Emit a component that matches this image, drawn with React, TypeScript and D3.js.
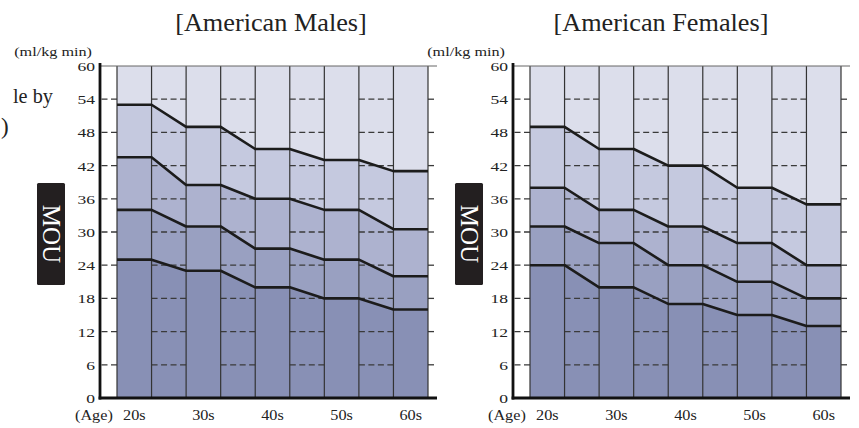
import React from "react";
import * as d3 from "d3";

const AGES = ["20s", "30s", "40s", "50s", "60s"];
const Y_TICKS = [0, 6, 12, 18, 24, 30, 36, 42, 48, 54, 60];

const MALE_L1 = [25, 23, 20, 18, 16];
const MALE_L2 = [34, 31, 27, 25, 22];
const MALE_L3 = [43.5, 38.5, 36, 34, 30.5];
const MALE_L4 = [53, 49, 45, 43, 41];

const FEMALE_L1 = [24, 20, 17, 15, 13];
const FEMALE_L2 = [31, 28, 24, 21, 18];
const FEMALE_L3 = [38, 34, 31, 28, 24];
const FEMALE_L4 = [49, 45, 42, 38, 35];

const BAND_COLORS = ["#8890b5", "#99a0c1", "#adb2cf", "#c5c9df", "#dcdeeb"];
const FONT = "'Liberation Serif', 'Times New Roman', serif";

const TOP = 66;
const BOTTOM = 398;

type PanelProps = {
  x0: number;
  title: string;
  titleX: number;
  levels: number[][];
  mouX: number;
};

function Panel({ x0, title, titleX, levels, mouX }: PanelProps) {
  const y = d3.scaleLinear().domain([0, 60]).range([BOTTOM, TOP]);
  const xc = d3.scaleLinear().domain([0, 9]).range([x0 + 17, x0 + 328]);
  const xEnd = x0 + 337;

  const zeros = AGES.map(() => 0);
  const tops = AGES.map(() => 60);
  const all = [zeros, ...levels, tops];

  const pts = (L: number[]) => {
    const out: [number, number][] = [];
    L.forEach((v, i) => {
      out.push([2 * i, v]);
      out.push([2 * i + 1, v]);
    });
    return out;
  };

  const area = d3
    .area<{ c: number; lo: number; hi: number }>()
    .x((d) => xc(d.c))
    .y0((d) => y(d.lo))
    .y1((d) => y(d.hi));
  const line = d3
    .line<[number, number]>()
    .x((d) => xc(d[0]))
    .y((d) => y(d[1]));

  const bands = BAND_COLORS.map((col, k) => {
    const lo = pts(all[k]);
    const hi = pts(all[k + 1]);
    const data = lo.map((p, i) => ({ c: p[0], lo: p[1], hi: hi[i][1] }));
    return <path key={k} d={area(data) || ""} fill={col} />;
  });

  const gapSegs: [number, number][] = [
    [x0 + 1.5, xc(0)],
    [xc(1), xc(2)],
    [xc(3), xc(4)],
    [xc(5), xc(6)],
    [xc(7), xc(8)],
    [xc(9), xEnd],
  ];

  const grid = Y_TICKS.filter((t) => t > 0 && t < 60).map((t) =>
    gapSegs.map((s, i) => (
      <line
        key={`${t}-${i}`}
        x1={s[0]}
        x2={s[1]}
        y1={y(t)}
        y2={y(t)}
        stroke="#3a3a3a"
        strokeWidth={1.3}
        strokeDasharray="6,3.5"
      />
    ))
  );

  const cols = d3.range(10).map((k) => (
    <line
      key={k}
      x1={xc(k)}
      x2={xc(k)}
      y1={TOP}
      y2={BOTTOM}
      stroke="#333"
      strokeWidth={1.2}
    />
  ));

  const lvlLines = levels.map((L, k) => (
    <path
      key={k}
      d={line(pts(L)) || ""}
      fill="none"
      stroke="#1c1c1c"
      strokeWidth={2.6}
      strokeLinejoin="round"
    />
  ));

  const yLabels = Y_TICKS.map((t) => (
    <text
      key={t}
      transform={`translate(${x0 - 5},${y(t) + 5}) scale(1.3,1)`}
      textAnchor="end"
      fontSize={13.5}
      fontFamily={FONT}
      fill="#222"
    >
      {t}
    </text>
  ));

  const xLabels = AGES.map((a, i) => (
    <text
      key={a}
      transform={`translate(${(xc(2 * i) + xc(2 * i + 1)) / 2},420) scale(1.12,1)`}
      textAnchor="middle"
      fontSize={14.5}
      fontFamily={FONT}
      fill="#222"
    >
      {a}
    </text>
  ));

  return (
    <g>
      <text
        transform={`translate(${titleX},31) scale(1.05,1)`}
        textAnchor="middle"
        fontSize={25}
        fontFamily={FONT}
        fill="#222"
      >
        {title}
      </text>
      <text
        transform={`translate(${x0 - 8},56) scale(1.2,1)`}
        textAnchor="end"
        fontSize={13.5}
        fontFamily={FONT}
        fill="#222"
      >
        (ml/kg min)
      </text>
      <rect x={mouX} y={183} width={28} height={102} fill="#231f20" rx={1.5} />
      <text
        transform={`translate(${mouX + 14},234) rotate(90)`}
        textAnchor="middle"
        dominantBaseline="central"
        fontSize={25}
        fontFamily={FONT}
        fill="#ffffff"
      >
        MOU
      </text>
      {bands}
      {grid}
      {cols}
      {lvlLines}
      <line x1={x0} x2={xEnd} y1={TOP} y2={TOP} stroke="#666" strokeWidth={1} />
      <line x1={x0} x2={x0} y1={TOP - 3} y2={BOTTOM + 1.4} stroke="#111" strokeWidth={2.8} />
      <line x1={x0 - 1.4} x2={xEnd} y1={BOTTOM} y2={BOTTOM} stroke="#111" strokeWidth={2.8} />
      {yLabels}
      <text
        transform={`translate(${x0 - 25},420) scale(1.12,1)`}
        fontSize={14.5}
        fontFamily={FONT}
        fill="#222"
      >
        (Age)
      </text>
      {xLabels}
    </g>
  );
}

export default function App() {
  return (
    <svg
      width={859}
      height={428}
      style={{ position: "absolute", left: 0, top: 0, background: "#fff" }}
    >
      <rect x={0} y={0} width={859} height={428} fill="#fff" />
      <text
        transform="translate(13,103) scale(0.92,1)"
        fontSize={22}
        fontFamily={FONT}
        fill="#222"
      >
        le by
      </text>
      <text transform="translate(1,134)" fontSize={23} fontFamily={FONT} fill="#222">
        )
      </text>
      <Panel
        x0={100}
        title="[American Males]"
        titleX={271}
        levels={[MALE_L1, MALE_L2, MALE_L3, MALE_L4]}
        mouX={37}
      />
      <Panel
        x0={513}
        title="[American Females]"
        titleX={661}
        levels={[FEMALE_L1, FEMALE_L2, FEMALE_L3, FEMALE_L4]}
        mouX={455}
      />
    </svg>
  );
}
